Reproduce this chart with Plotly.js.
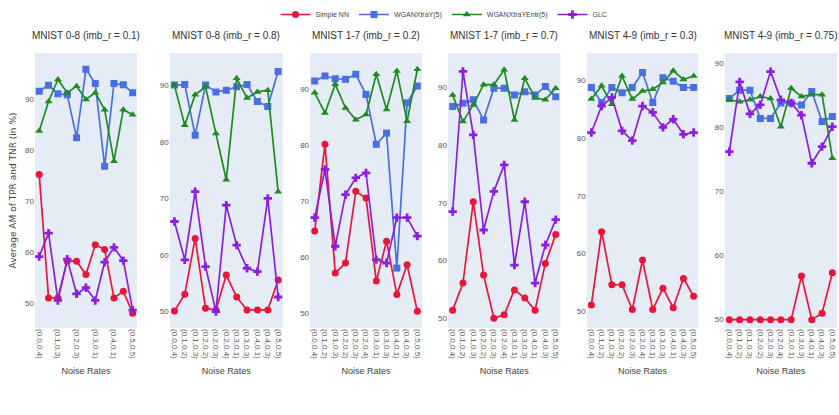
<!DOCTYPE html>
<html>
<head>
<meta charset="utf-8">
<script src="https://cdn.plot.ly/plotly-3.0.1.min.js"></script>
<style>html,body{margin:0;padding:0;background:#fff;}#chart{width:839px;height:415px;}</style>
</head>
<body>
<div id="chart"></div>
<script>
// ---- data ----
const noiseRates = ["(0.0,0.4)","(0.1,0.2)","(0.1,0.3)","(0.2,0.2)","(0.2,0.3)","(0.2,0.4)","(0.3,0.1)","(0.3,0.3)","(0.4,0.1)","(0.4,0.3)","(0.5,0.5)"];
const seriesNames = ["Simple NN","WGANXtraY(5)","WGANXtraYEntr(5)","GLC"];
const panelTitles = ["MNIST 0-8 (imb_r = 0.1)","MNIST 0-8 (imb_r = 0.8)","MNIST 1-7 (imb_r = 0.2)","MNIST 1-7 (imb_r = 0.7)","MNIST 4-9 (imb_r = 0.3)","MNIST 4-9 (imb_r = 0.75)"];

// panel 1: MNIST 0-8 (0.1)
const p1SimpleNN = [75.2,51.0,51.0,58.2,58.2,55.6,61.4,60.5,51.0,52.3,48.0];
const p1WganXtraY = [91.5,92.7,91.0,90.8,82.4,95.8,93.0,76.8,93.0,92.8,91.2];
const p1WganXtraYEntr = [83.7,89.5,93.8,91.2,92.5,89.9,91.2,87.9,77.8,87.9,86.9];
const p1Glc = [59.1,63.7,50.5,58.6,51.8,53.0,50.5,58.0,60.9,58.3,48.6];
// panel 2: MNIST 0-8 (0.8)
const p2SimpleNN = [50.0,53.0,62.9,50.5,50.2,56.4,52.5,50.2,50.2,50.2,55.5];
const p2WganXtraY = [90.1,90.2,81.2,90.1,88.9,89.2,89.8,90.2,87.2,86.3,92.5];
const p2WganXtraYEntr = [90.1,83.0,88.4,89.8,81.5,73.3,91.3,87.8,88.9,89.2,71.2];
const p2Glc = [65.9,59.1,71.2,57.9,49.9,68.8,61.7,57.6,57.0,70.0,52.5];
// panel 3: MNIST 1-7 (0.2)
const p3SimpleNN = [64.6,80.1,57.1,58.9,71.7,70.5,55.7,62.8,53.3,58.6,50.3];
const p3WganXtraY = [91.4,92.3,91.8,91.7,92.6,89.0,80.1,82.1,58.0,87.5,90.5];
const p3WganXtraYEntr = [89.3,85.7,90.8,86.6,84.5,85.4,92.6,86.3,93.2,84.2,93.5];
const p3Glc = [67.0,75.6,61.9,71.1,74.1,75.0,59.5,58.9,67.0,67.0,63.7];
// panel 4: MNIST 1-7 (0.7)
const p4SimpleNN = [51.4,56.1,70.2,57.5,50.0,50.6,54.9,53.5,51.4,59.5,64.5];
const p4WganXtraY = [86.7,87.3,87.9,84.4,89.9,89.9,88.7,89.3,88.7,90.2,88.4];
const p4WganXtraYEntr = [88.7,84.1,87.0,90.5,90.5,93.1,84.4,91.6,88.2,87.9,89.9];
const p4Glc = [68.5,92.8,81.8,65.3,72.0,76.6,59.2,70.2,56.1,62.7,67.1];
// panel 5: MNIST 4-9 (0.3)
const p5SimpleNN = [51.1,63.8,54.6,54.6,50.3,58.9,50.3,54.0,50.6,55.7,52.6];
const p5WganXtraY = [88.8,86.2,88.8,87.9,88.8,91.4,86.2,90.5,89.9,88.8,88.8];
const p5WganXtraYEntr = [86.8,89.1,85.9,90.8,86.8,88.2,88.5,89.7,91.7,90.2,90.8];
const p5Glc = [81.0,85.6,87.1,81.3,79.6,85.6,84.5,81.9,83.3,80.7,81.0];
// panel 6: MNIST 4-9 (0.75)
const p6SimpleNN = [50.0,50.0,50.0,50.0,50.0,50.0,50.0,56.8,50.0,51.0,57.3];
const p6WganXtraY = [84.5,85.8,85.8,81.4,81.4,83.8,83.8,83.5,85.6,80.9,81.7];
const p6WganXtraYEntr = [84.3,84.0,84.3,84.8,84.5,80.1,86.1,84.8,85.1,85.1,75.2];
const p6Glc = [76.2,87.1,82.1,83.5,88.7,84.3,83.8,81.9,74.4,77.0,80.1];

const panels = [
  [p1SimpleNN,p1WganXtraY,p1WganXtraYEntr,p1Glc],
  [p2SimpleNN,p2WganXtraY,p2WganXtraYEntr,p2Glc],
  [p3SimpleNN,p3WganXtraY,p3WganXtraYEntr,p3Glc],
  [p4SimpleNN,p4WganXtraY,p4WganXtraYEntr,p4Glc],
  [p5SimpleNN,p5WganXtraY,p5WganXtraYEntr,p5Glc],
  [p6SimpleNN,p6WganXtraY,p6WganXtraYEntr,p6Glc]
];

// ---- style ----
const colors = ["#e8153b","#4a6fe3","#1f8a1f","#8b1fe0"];
const symbols = ["circle","square","triangle-up","cross"];
const xDomains = [[0,0.127],[0.168,0.309],[0.343,0.4825],[0.515,0.655],[0.688,0.827],[0.860,1.0]];
const yRanges = [[45.1,99],[47,95.8],[47.3,96.4],[48.3,96.0],[47.1,94.8],[48.7,91.6]];
const FONT = "'Liberation Sans',Arial,sans-serif";

const traces = [];
const layout = {
  width: 839, height: 415,
  margin: {l:35, r:2, t:53, b:87},
  paper_bgcolor: "#ffffff",
  plot_bgcolor: "#e5ecf6",
  showlegend: true,
  legend: {orientation:"h", x:0.51, xanchor:"center", y:1.0, yanchor:"top", yref:"container",
           font:{family:FONT, size:7, color:"#444"}, itemwidth:30, tracegroupgap:0},
  font: {family: FONT, color:"#444"},
  annotations: []
};

panels.forEach((series, pi) => {
  const ax = pi === 0 ? "" : String(pi+1);
  series.forEach((vals, si) => {
    traces.push({
      type: "scatter", mode: "lines+markers",
      x: noiseRates, y: vals,
      xaxis: "x"+ax, yaxis: "y"+ax,
      name: seriesNames[si], legendgroup: seriesNames[si], showlegend: pi === 0,
      line: {color: colors[si], width: 1.7},
      marker: {color: colors[si], symbol: symbols[si], size: 7}
    });
  });
  layout["xaxis"+ax] = {
    domain: xDomains[pi], anchor: "y"+ax,
    type: "category", range: [-0.45, noiseRates.length-0.55],
    tickangle: 90, tickfont: {family: FONT, size: 8, color:"#555"},
    showgrid: false, zeroline: false, ticks: "",
    title: {text: "Noise Rates", font: {family: FONT, size: 9, color:"#444"}, standoff: 9}
  };
  layout["yaxis"+ax] = {
    domain: [0,1], anchor: "x"+ax,
    range: yRanges[pi], tickvals: [50,60,70,80,90],
    tickfont: {family: FONT, size: 8, color:"#555"},
    showgrid: false, zeroline: false, ticks: ""
  };
  layout.annotations.push({
    text: panelTitles[pi], xref: "x"+ax+" domain", yref: "paper",
    x: 0.5, y: 1.035, xanchor: "center", yanchor: "bottom", showarrow: false,
    font: {family: FONT, size: 10, color: "#333"}
  });
});
layout.yaxis.title = {text: "Average AM of TPR and TNR (in %)", font: {family:"'DejaVu Sans',sans-serif", size: 9, color:"#444"}, standoff: 6};

Plotly.newPlot("chart", traces, layout, {displayModeBar:false, staticPlot:true});
</script>
</body>
</html>
